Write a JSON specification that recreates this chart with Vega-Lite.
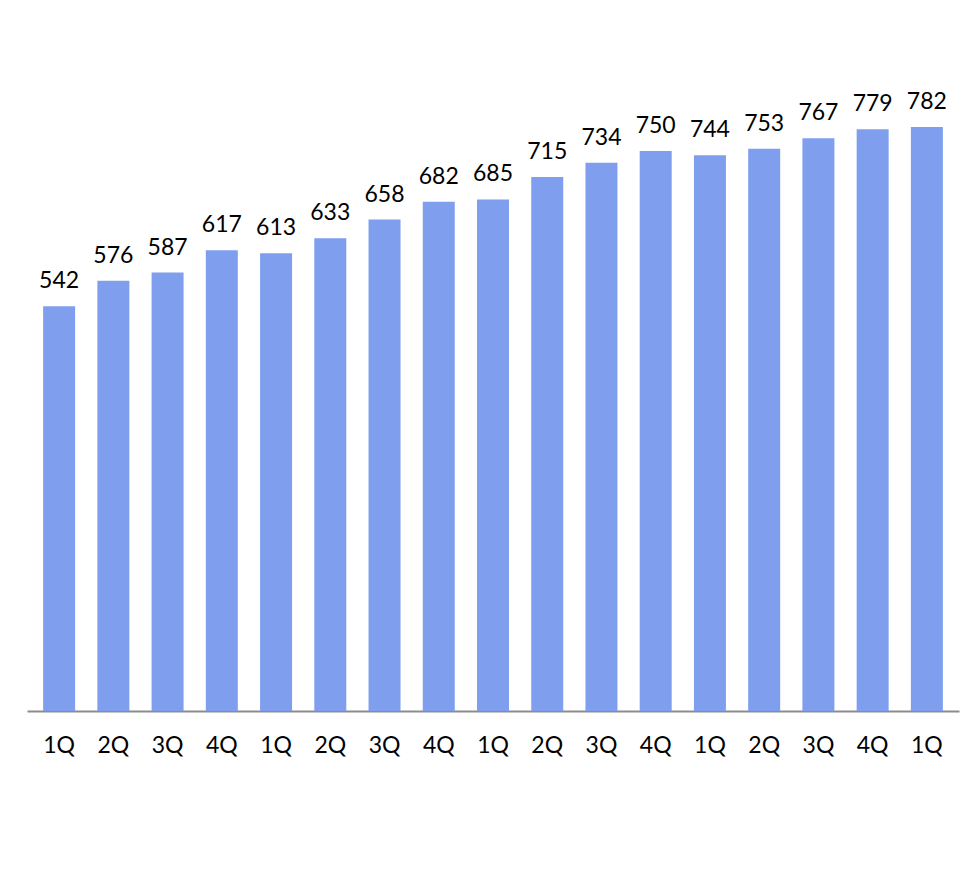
{
  "$schema": "https://vega.github.io/schema/vega-lite/v6.json",
  "width": 932,
  "height": 656,
  "autosize": {"type": "none"},
  "padding": {"left": 27, "top": 55, "right": 20, "bottom": 171},
  "background": "white",
  "config": {"view": {"stroke": null}},
  "data": {"values": [
    {"year": "2010", "q": "1Q", "idx": 0, "value": 542},
    {"year": "2010", "q": "2Q", "idx": 1, "value": 576},
    {"year": "2010", "q": "3Q", "idx": 2, "value": 587},
    {"year": "2010", "q": "4Q", "idx": 3, "value": 617},
    {"year": "2011", "q": "1Q", "idx": 4, "value": 613},
    {"year": "2011", "q": "2Q", "idx": 5, "value": 633},
    {"year": "2011", "q": "3Q", "idx": 6, "value": 658},
    {"year": "2011", "q": "4Q", "idx": 7, "value": 682},
    {"year": "2012", "q": "1Q", "idx": 8, "value": 685},
    {"year": "2012", "q": "2Q", "idx": 9, "value": 715},
    {"year": "2012", "q": "3Q", "idx": 10, "value": 734},
    {"year": "2012", "q": "4Q", "idx": 11, "value": 750},
    {"year": "2013", "q": "1Q", "idx": 12, "value": 744},
    {"year": "2013", "q": "2Q", "idx": 13, "value": 753},
    {"year": "2013", "q": "3Q", "idx": 14, "value": 767},
    {"year": "2013", "q": "4Q", "idx": 15, "value": 779},
    {"year": "2014", "q": "1Q", "idx": 16, "value": 782}
  ]},
  "layer": [
    {
      "mark": {"type": "bar", "orient": "vertical", "width": 32, "color": "#7f9fee"},
      "encoding": {
        "x": {"field": "idx", "type": "quantitative", "scale": {"domain": [-0.5, 16.5], "nice": false, "zero": false},
          "axis": {"labels": false, "ticks": false, "grid": false, "title": null, "domainColor": "#8c8c8c", "domainWidth": 2}},
        "y": {"field": "value", "type": "quantitative", "scale": {"domain": [0, 878.4], "nice": false, "zero": false}, "axis": null}
      }
    },
    {
      "mark": {"type": "text", "font": "Lato", "fontSize": 23, "color": "black", "baseline": "alphabetic", "dy": -18},
      "encoding": {
        "x": {"field": "idx", "type": "quantitative", "scale": {"domain": [-0.5, 16.5], "nice": false, "zero": false}},
        "y": {"field": "value", "type": "quantitative", "scale": {"domain": [0, 878.4], "nice": false, "zero": false}},
        "text": {"field": "value", "type": "quantitative"}
      }
    },
    {
      "mark": {"type": "text", "font": "Lato", "fontSize": 23, "color": "black", "baseline": "alphabetic", "clip": false},
      "encoding": {
        "x": {"field": "idx", "type": "quantitative", "scale": {"domain": [-0.5, 16.5], "nice": false, "zero": false}},
        "y": {"datum": -56.24, "type": "quantitative", "scale": {"domain": [0, 878.4], "nice": false, "zero": false}},
        "text": {"field": "q", "type": "nominal"}
      }
    }
  ]
}
